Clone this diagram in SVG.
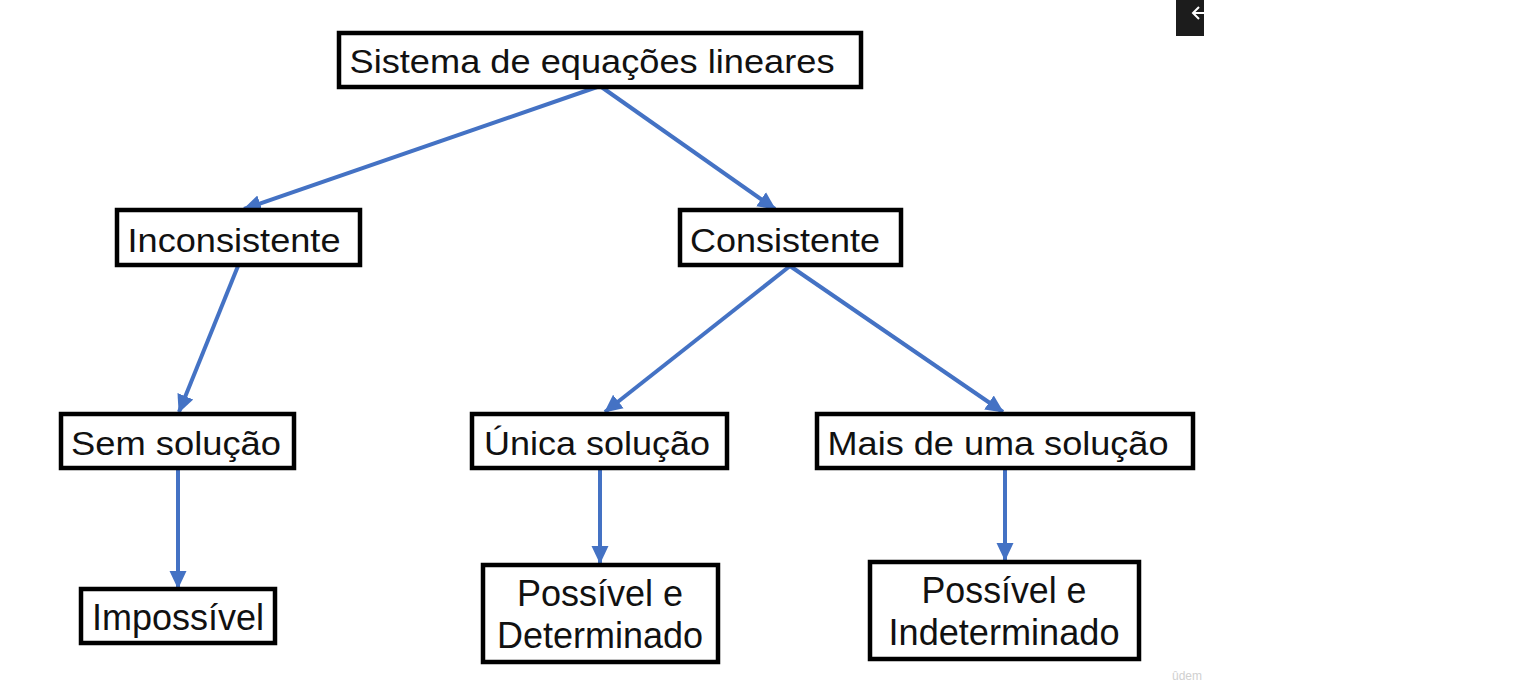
<svg xmlns="http://www.w3.org/2000/svg" width="1536" height="686" viewBox="0 0 1536 686">
<style>
.box{fill:#fff;stroke:#000;stroke-width:4.5}
.t{font-family:"Liberation Sans",Arial,sans-serif;font-size:34px;fill:#111;text-anchor:middle}
.tl{font-size:37px}
.c{stroke:#4472C4;stroke-width:4;fill:none;marker-end:url(#ah)}
</style>
<defs>
<marker id="ah" markerUnits="userSpaceOnUse" markerWidth="20" markerHeight="20" viewBox="0 0 20 20" refX="17" refY="10" orient="auto">
<path d="M0,1.5 L18,10 L0,18.5 Z" fill="#4472C4"/>
</marker>
</defs>
<rect width="1536" height="686" fill="#fff"/>
<g id="corner">
<rect x="1176" y="0" width="28" height="36" fill="#1c1c1c"/>
<path d="M1204,13 L1193,13 M1199,7 L1193,13 L1199,19" stroke="#fff" stroke-width="2" fill="none"/>
</g>
<g id="connectors">
<line class="c" x1="600" y1="86" x2="244" y2="209"/>
<line class="c" x1="600" y1="86" x2="775" y2="209"/>
<line class="c" x1="238" y1="266" x2="179" y2="412"/>
<line class="c" x1="790" y1="266" x2="605" y2="412"/>
<line class="c" x1="790" y1="266" x2="1003" y2="412"/>
<line class="c" x1="178" y1="469" x2="178" y2="588"/>
<line class="c" x1="600" y1="469" x2="600" y2="563"/>
<line class="c" x1="1005" y1="469" x2="1005" y2="560"/>
</g>
<g id="n-sistema">
<rect class="box" x="339" y="33" width="522" height="54"/>
<text class="t" x="592" y="73" textLength="485" lengthAdjust="spacingAndGlyphs">Sistema de equações lineares</text>
</g>
<g id="n-inconsistente">
<rect class="box" x="117" y="210" width="243" height="55"/>
<text class="t" x="234" y="252" textLength="213" lengthAdjust="spacingAndGlyphs">Inconsistente</text>
</g>
<g id="n-consistente">
<rect class="box" x="680" y="210" width="221" height="55"/>
<text class="t" x="785" y="252" textLength="190" lengthAdjust="spacingAndGlyphs">Consistente</text>
</g>
<g id="n-sem">
<rect class="box" x="61" y="414" width="233" height="54"/>
<text class="t" x="176" y="455" textLength="210" lengthAdjust="spacingAndGlyphs">Sem solução</text>
</g>
<g id="n-unica">
<rect class="box" x="472" y="414" width="255" height="54"/>
<text class="t" x="597" y="455" textLength="226" lengthAdjust="spacingAndGlyphs">Única solução</text>
</g>
<g id="n-mais">
<rect class="box" x="817" y="414" width="376" height="54"/>
<text class="t" x="998" y="455" textLength="341" lengthAdjust="spacingAndGlyphs">Mais de uma solução</text>
</g>
<g id="n-impossivel">
<rect class="box" x="81" y="589" width="194" height="54"/>
<text class="t tl" x="178" y="630" textLength="172" lengthAdjust="spacingAndGlyphs">Impossível</text>
</g>
<g id="n-determinado">
<rect class="box" x="483" y="565" width="235" height="97"/>
<text class="t tl" x="600" y="606" textLength="166" lengthAdjust="spacingAndGlyphs">Possível e</text>
<text class="t tl" x="600" y="648" textLength="206" lengthAdjust="spacingAndGlyphs">Determinado</text>
</g>
<g id="n-indeterminado">
<rect class="box" x="870" y="562" width="269" height="97"/>
<text class="t tl" x="1004" y="603" textLength="165" lengthAdjust="spacingAndGlyphs">Possível e</text>
<text class="t tl" x="1004" y="645" textLength="231" lengthAdjust="spacingAndGlyphs">Indeterminado</text>
</g>
<text x="1172" y="680" font-family="'Liberation Sans',Arial,sans-serif" font-size="12" fill="#d0d0d0">ûdem</text>
</svg>
